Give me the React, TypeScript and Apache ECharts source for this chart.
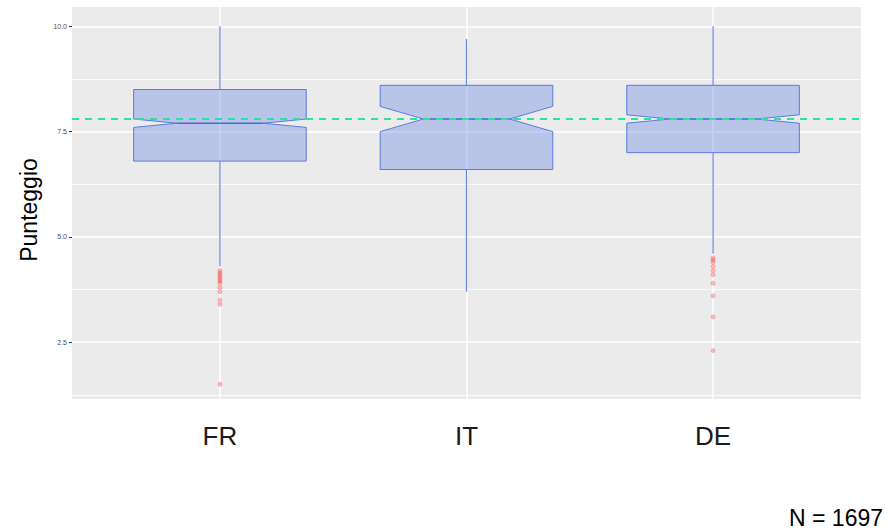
import React, { useEffect, useRef } from "react";
import * as echarts from "echarts";

const CATEGORIES = ["FR", "IT", "DE"];
const Q1 = [6.8, 6.6, 7.0];
const MEDIAN = [7.7, 7.8, 7.8];
const Q3 = [8.5, 8.6, 8.6];
const WHISKER_LOW = [4.3, 3.7, 4.6];
const WHISKER_HIGH = [10.0, 9.7, 10.0];
const NOTCH_LOW = [7.6, 7.5, 7.7];
const NOTCH_HIGH = [7.8, 8.1, 7.9];
const FR_OUTLIERS = [4.2, 4.15, 4.1, 4.05, 4.0, 3.95, 3.9, 3.8, 3.7, 3.5, 3.4, 1.5];
const IT_OUTLIERS: number[] = [];
const DE_OUTLIERS = [4.5, 4.45, 4.4, 4.3, 4.2, 4.1, 3.9, 3.6, 3.1, 2.3];
const REFERENCE_MEAN = 7.8;
const MAJOR_BREAKS = [2.5, 5.0, 7.5, 10.0];
const MINOR_BREAKS = [1.25, 3.75, 6.25, 8.75];
const Y_TITLE = "Punteggio";
const SAMPLE_NOTE = "N = 1697";

const FONT = "'Liberation Sans', Arial, sans-serif";
const BOX_HALF = 0.35;
const NOTCH_HALF = 0.175;

export default function App() {
  const ref = useRef<HTMLDivElement>(null);
  useEffect(() => {
    document.body.style.margin = "0";
    const chart = echarts.init(ref.current!, null, { renderer: "svg" });

    const boxData = CATEGORIES.map((_, i) => [
      i + 1, Q1[i], MEDIAN[i], Q3[i], WHISKER_LOW[i], WHISKER_HIGH[i], NOTCH_LOW[i], NOTCH_HIGH[i],
    ]);
    const outliers: number[][] = [];
    [FR_OUTLIERS, IT_OUTLIERS, DE_OUTLIERS].forEach((arr, i) =>
      arr.forEach((v) => outliers.push([i + 1, v]))
    );

    const gridLines: any[] = [];
    MINOR_BREAKS.forEach((v) =>
      gridLines.push({ yAxis: v, lineStyle: { color: "#ffffff", width: 0.8, type: "solid" } })
    );
    MAJOR_BREAKS.forEach((v) =>
      gridLines.push({ yAxis: v, lineStyle: { color: "#ffffff", width: 1.5, type: "solid" } })
    );
    CATEGORIES.forEach((_, i) =>
      gridLines.push({ xAxis: i + 1, lineStyle: { color: "#ffffff", width: 1.5, type: "solid" } })
    );

    chart.setOption({
      animation: false,
      textStyle: { fontFamily: FONT },
      grid: {
        left: 72,
        right: 24,
        top: 7,
        bottom: 132,
        show: true,
        backgroundColor: "#EBEBEB",
        borderWidth: 0,
      },
      xAxis: {
        type: "value",
        min: 0.4,
        max: 3.6,
        axisLine: { show: false },
        axisTick: { show: false, customValues: [1, 2, 3] },
        splitLine: { show: false },
        axisLabel: {
          customValues: [1, 2, 3],
          formatter: (v: number) => CATEGORIES[Math.round(v) - 1] ?? "",
          fontSize: 26,
          color: "#1a1a1a",
          margin: 24,
          fontFamily: FONT,
        },
      },
      yAxis: {
        type: "value",
        min: 1.15,
        max: 10.46,
        axisLine: { show: false },
        axisTick: { show: true, length: 3, customValues: MAJOR_BREAKS, lineStyle: { color: "#333333", width: 1 } },
        splitLine: { show: false },
        axisLabel: {
          customValues: MAJOR_BREAKS,
          formatter: (v: number) => v.toFixed(1),
          fontSize: 7,
          color: "#4d4d4d",
          margin: 5,
          fontFamily: FONT,
        },
      },
      graphic: [
        {
          type: "text",
          x: 28.5,
          y: 210,
          rotation: Math.PI / 2,
          style: {
            text: Y_TITLE,
            fontSize: 23,
            fill: "#000000",
            fontFamily: FONT,
            align: "center",
            verticalAlign: "middle",
          },
        },
        {
          type: "text",
          right: 2,
          top: 506,
          style: { text: SAMPLE_NOTE, fontSize: 23, fill: "#000000", fontFamily: FONT },
        },
      ],
      series: [
        {
          type: "line",
          data: [],
          z: 1,
          silent: true,
          markLine: {
            silent: true,
            z: 1,
            symbol: ["none", "none"],
            label: { show: false },
            animation: false,
            data: gridLines,
          },
        },
        {
          type: "custom",
          z: 2,
          data: boxData,
          renderItem: (params: any, api: any) => {
            const x = api.value(0);
            const q1 = api.value(1);
            const med = api.value(2);
            const q3 = api.value(3);
            const lo = api.value(4);
            const hi = api.value(5);
            const nlo = api.value(6);
            const nhi = api.value(7);
            const c = (xx: number, yy: number) => api.coord([xx, yy]);
            const xl = x - BOX_HALF;
            const xr = x + BOX_HALF;
            const pts = [
              c(xl, q3), c(xl, nhi), c(x - NOTCH_HALF, med), c(xl, nlo), c(xl, q1),
              c(xr, q1), c(xr, nlo), c(x + NOTCH_HALF, med), c(xr, nhi), c(xr, q3),
            ];
            const top = c(x, hi);
            const q3p = c(x, q3);
            const q1p = c(x, q1);
            const bot = c(x, lo);
            const m1 = c(x - NOTCH_HALF, med);
            const m2 = c(x + NOTCH_HALF, med);
            const wStyle = { stroke: "#6684dc", lineWidth: 1.2 };
            return {
              type: "group",
              children: [
                { type: "line", shape: { x1: top[0], y1: top[1], x2: q3p[0], y2: q3p[1] }, style: wStyle },
                { type: "line", shape: { x1: q1p[0], y1: q1p[1], x2: bot[0], y2: bot[1] }, style: wStyle },
                {
                  type: "polygon",
                  shape: { points: pts },
                  style: { fill: "rgba(65,105,225,0.3)", stroke: "#5b7bd9", lineWidth: 1 },
                },
                { type: "line", shape: { x1: m1[0], y1: m1[1], x2: m2[0], y2: m2[1] }, style: { stroke: "#4a6ad6", lineWidth: 1.6 } },
              ],
            };
          },
        },
        {
          type: "scatter",
          z: 3,
          data: outliers,
          symbolSize: 5,
          itemStyle: { color: "rgba(255,0,0,0.33)" },
          markLine: {
            silent: true,
            symbol: ["none", "none"],
            label: { show: false },
            animation: false,
            z: 5,
            data: [{ yAxis: REFERENCE_MEAN }],
            lineStyle: { color: "#2be596", width: 2, type: [7, 6] },
          },
        },
      ],
    });
    return () => chart.dispose();
  }, []);
  return <div ref={ref} style={{ width: 885, height: 531 }} />;
}
